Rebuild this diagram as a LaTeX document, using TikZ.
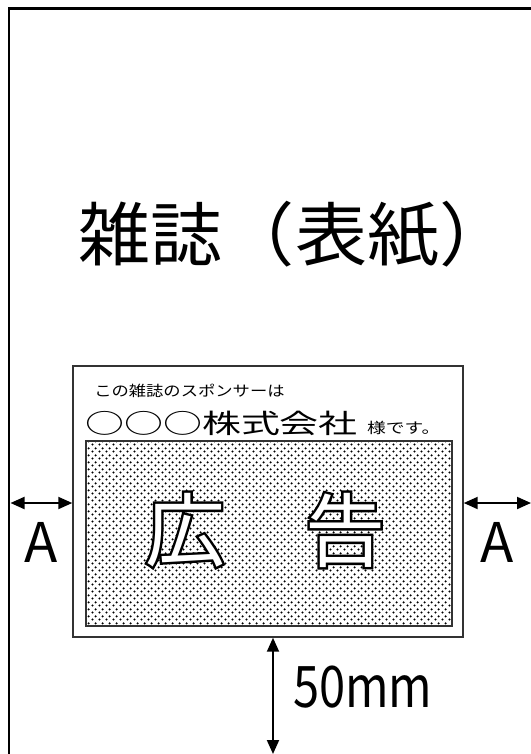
\documentclass[tikz,border=0pt]{standalone}
\usepackage{fontspec}
\setmainfont{Noto Sans CJK JP}
\newfontfamily\adhalo[FakeBold=6]{Noto Sans CJK JP}
\usepackage{xcolor}
\colorlet{cInk}{black}
\colorlet{cEdge}{black!80}
\colorlet{cDot}{black}
\usepackage{tikz}
\usetikzlibrary{calc, arrows.meta, patterns.meta, positioning}
\tikzdeclarepattern{
	name=addots,
	type=uncolored,
	bounding box={(0pt,0pt) and (5.25pt,5.25pt)},
	tile size={(5.25pt,5.25pt)},
	code={
		\fill (1.31pt,1.31pt) circle [radius=1pt];
		\fill (3.94pt,3.94pt) circle [radius=1pt];
	}
}
\tikzset{
	node distance = 1.5em,
	line width = 1.5pt,
	>={Triangle[length=10.5pt,width=9pt]},
	frame/.style={
		draw=cInk,
		line width=1.6pt
	},
	adbox/.style={
		draw=cEdge,
		line width=1.1pt,
		fill=white,
		inner sep=0pt
	},
	dotbox/.style={
		draw=cEdge,
		line width=1.1pt,
		pattern=addots,
		pattern color=cDot,
		inner sep=0pt
	},
	measure/.style={
		<->,
		line width=1.5pt
	},
	dimlabel/.style={
		inner sep=0pt,
		font=\fontsize{41}{41}\selectfont
	},
	adword/.style={
		inner sep=0pt,
		font=\fontsize{60}{60}\selectfont
	}
}

\begin{document}
\begin{tikzpicture}[x=0.75pt, y=-0.75pt]
\useasboundingbox (0,0) rectangle (531,754);
% ---
% cover page
% ---
\coordinate (f-bl) at (9.3,754);
\coordinate (f-tl) at (9.3,8.5);
\coordinate (f-tr) at (531,8.5);
\draw[frame] (f-bl) -- (f-tl) -- (f-tr);

\node[inner sep=0pt, font=\fontsize{52}{52}\selectfont] (title) at (295,234) {\scalebox{1.04}[1]{雑誌（表紙）}};

% ---
% advert block
% ---
\node[adbox, minimum width=292.5pt, minimum height=203.25pt] (ad) at (268,501.5) {};
\node[dotbox, minimum width=274.5pt, minimum height=138.75pt] (ph) at (269,533.5) {};

\node[anchor=west, inner sep=0pt, font=\fontsize{11}{11}\selectfont] (sponsor) at (94,391)
	{\scalebox{1.18}[1]{この雑誌のスポンサーは}};
\node[anchor=base west, inner sep=0pt] (company) at (85,433)
	{\scalebox{1.46}[1]{\fontsize{20}{20}\selectfont ○○○株式会社}\hspace{7pt}%
	\scalebox{1.28}[1]{\fontsize{11}{11}\selectfont 様です。}};

\node[adword, text=black] (adword-halo) at (265,530) {\adhalo 広　告};
\node[adword, text=white] (adword) at (adword-halo) {広　告};

% ---
% spacing
% ---
\coordinate (l-end) at (10.5,503);
\coordinate (r-end) at (531,503);
\coordinate (b-end) at (273,754);

\draw[measure] (l-end) -- (ad.west |- l-end);
\draw[measure] (ad.east |- r-end) -- (r-end);
\draw[measure] (ad.south -| b-end) -- (b-end);

\node[dimlabel] (a-left) at (41,542) {A};
\node[dimlabel] (a-right) at (497,542) {A};
\node[anchor=west, inner sep=0pt, font=\fontsize{43}{43}\selectfont] (gap) at (293,687) {\scalebox{0.82}[1]{50mm}};
\end{tikzpicture}
\end{document}
